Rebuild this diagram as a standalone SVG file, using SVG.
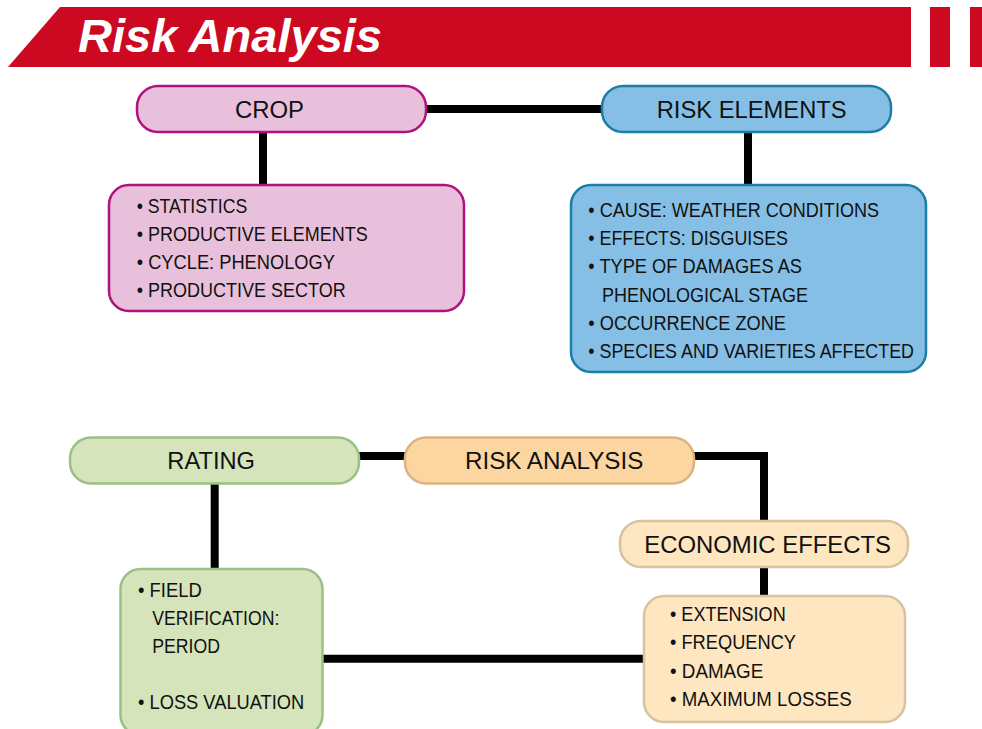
<svg xmlns="http://www.w3.org/2000/svg" width="982" height="729" viewBox="0 0 982 729">
<style>
.hd{font-family:"Liberation Sans",Arial,sans-serif;font-size:24px;fill:#111}
.tx{font-family:"Liberation Sans",Arial,sans-serif;font-size:20.5px;fill:#111}
.title{font-family:"Liberation Sans",Arial,sans-serif;font-size:47px;font-weight:bold;font-style:italic;fill:#fff}
.cn{fill:none;stroke:#000;stroke-width:8;stroke-linejoin:miter;stroke-linecap:butt}
.pink{fill:#e9c0db;stroke:#b0117f;stroke-width:2.5}
.blue{fill:#86bfe5;stroke:#1b7ea6;stroke-width:2.5}
.green{fill:#d5e4bb;stroke:#9cc084;stroke-width:2.5}
.peach{fill:#fde6c0;stroke:#d6c39f;stroke-width:2.5}
.orange{fill:#fcd6a1;stroke:#dcb27f;stroke-width:2.5}
</style>
<g id="header">
<polygon points="60,7 911,7 911,67 8,67" fill="#cc0920"/>
<rect x="930" y="7" width="20" height="60" fill="#cc0920"/>
<rect x="970" y="7" width="12" height="60" fill="#cc0920"/>
<text class="title" x="78" y="52" textLength="304" lengthAdjust="spacingAndGlyphs">Risk Analysis</text>
</g>
<g id="connectors">
<path class="cn" d="M426 109 H602"/>
<path class="cn" d="M263 132 V185"/>
<path class="cn" d="M748 133 V185"/>
<path class="cn" d="M359 456 H405"/>
<path class="cn" d="M694 456 H764 V521"/>
<path class="cn" d="M764 567 V596"/>
<path class="cn" d="M214.7 483 V569"/>
<path class="cn" d="M322 658.7 H644"/>
</g>
<g id="crop">
<rect class="pink" x="137" y="86" width="289" height="46" rx="21"/>
<text class="hd" x="235" y="117.7" textLength="69" lengthAdjust="spacingAndGlyphs">CROP</text>
</g>
<g id="crop-details">
<rect class="pink" x="109" y="185" width="355" height="126" rx="20"/>
<text class="tx" x="136.7" y="212.7" textLength="110.6" lengthAdjust="spacingAndGlyphs">• STATISTICS</text>
<text class="tx" x="136.7" y="240.7" textLength="231" lengthAdjust="spacingAndGlyphs">• PRODUCTIVE ELEMENTS</text>
<text class="tx" x="136.7" y="268.7" textLength="198.3" lengthAdjust="spacingAndGlyphs">• CYCLE: PHENOLOGY</text>
<text class="tx" x="136.7" y="296.7" textLength="209" lengthAdjust="spacingAndGlyphs">• PRODUCTIVE SECTOR</text>
</g>
<g id="risk-elements">
<rect class="blue" x="602" y="86" width="289" height="46" rx="21"/>
<text class="hd" x="656.7" y="117.7" textLength="190" lengthAdjust="spacingAndGlyphs">RISK ELEMENTS</text>
</g>
<g id="risk-elements-details">
<rect class="blue" x="571" y="185" width="355" height="187" rx="20"/>
<text class="tx" x="588.3" y="216.7" textLength="290.7" lengthAdjust="spacingAndGlyphs">• CAUSE: WEATHER CONDITIONS</text>
<text class="tx" x="588.3" y="244.5" textLength="199.7" lengthAdjust="spacingAndGlyphs">• EFFECTS: DISGUISES</text>
<text class="tx" x="588.3" y="273" textLength="213.7" lengthAdjust="spacingAndGlyphs">• TYPE OF DAMAGES AS</text>
<text class="tx" x="602" y="301.5" textLength="206" lengthAdjust="spacingAndGlyphs">PHENOLOGICAL STAGE</text>
<text class="tx" x="588.3" y="329.5" textLength="197.7" lengthAdjust="spacingAndGlyphs">• OCCURRENCE ZONE</text>
<text class="tx" x="588.3" y="357.7" textLength="325.7" lengthAdjust="spacingAndGlyphs">• SPECIES AND VARIETIES AFFECTED</text>
</g>
<g id="rating">
<rect class="green" x="70" y="437.5" width="289" height="46" rx="21"/>
<text class="hd" x="167.3" y="469" textLength="87.7" lengthAdjust="spacingAndGlyphs">RATING</text>
</g>
<g id="rating-details">
<rect class="green" x="120.5" y="569" width="202" height="166" rx="20"/>
<text class="tx" x="138" y="596.7" textLength="63.7" lengthAdjust="spacingAndGlyphs">• FIELD</text>
<text class="tx" x="152.3" y="625.3" textLength="127" lengthAdjust="spacingAndGlyphs">VERIFICATION:</text>
<text class="tx" x="152.3" y="653.3" textLength="67.7" lengthAdjust="spacingAndGlyphs">PERIOD</text>
<text class="tx" x="138" y="709.3" textLength="166.3" lengthAdjust="spacingAndGlyphs">• LOSS VALUATION</text>
</g>
<g id="risk-analysis">
<rect class="orange" x="405" y="437.5" width="289" height="46" rx="21"/>
<text class="hd" x="465" y="469" textLength="178.3" lengthAdjust="spacingAndGlyphs">RISK ANALYSIS</text>
</g>
<g id="economic-effects">
<rect class="peach" x="620" y="521" width="288" height="46" rx="21"/>
<text class="hd" x="644.3" y="552.7" textLength="246.7" lengthAdjust="spacingAndGlyphs">ECONOMIC EFFECTS</text>
</g>
<g id="economic-details">
<rect class="peach" x="644" y="596" width="261" height="126" rx="20"/>
<text class="tx" x="670" y="621" textLength="115.7" lengthAdjust="spacingAndGlyphs">• EXTENSION</text>
<text class="tx" x="670" y="649.3" textLength="126" lengthAdjust="spacingAndGlyphs">• FREQUENCY</text>
<text class="tx" x="670" y="677.7" textLength="93.3" lengthAdjust="spacingAndGlyphs">• DAMAGE</text>
<text class="tx" x="670" y="706" textLength="181.7" lengthAdjust="spacingAndGlyphs">• MAXIMUM LOSSES</text>
</g>
</svg>
